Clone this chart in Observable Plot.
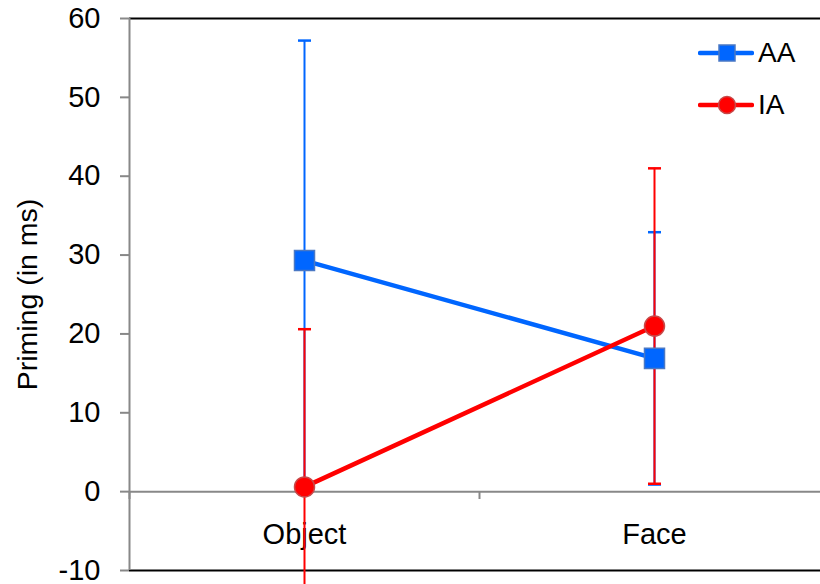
<!DOCTYPE html>
<html>
<head>
<meta charset="utf-8">
<script src="https://cdn.jsdelivr.net/npm/d3@7"></script>
<script src="https://cdn.jsdelivr.net/npm/@observablehq/plot@0.6"></script>
<style>
  html, body { margin: 0; padding: 0; background: #fff; overflow: hidden; }
  #wrap { position: relative; width: 820px; height: 584px; font-family: "Liberation Sans", Arial, sans-serif; }
  #legend { position: absolute; left: 698px; top: 37px; font-size: 28px; color: #000; }
  #legend .row { display: flex; align-items: center; height: 32px; margin-bottom: 20px; }
  #legend svg { display: block; margin-right: 4px; }
</style>
</head>
<body>
<div id="wrap"><div id="legend"></div></div>
<script>
// Priming means and error half-widths per condition
const categories = ["Object", "Face"];
const aaMean = [29.3, 16.9];
const aaErr = [27.9, 16.0];
const iaMean = [0.6, 21.0];
const iaErr = [20.0, 20.0];
const yTicks = [-10, 0, 10, 20, 30, 40, 50, 60];

const blue = "#0066ff";
const red = "#ff0000";

const series = [
  {name: "AA", mean: aaMean, err: aaErr, color: blue, edge: "#4a78c4", symbol: "square", r: 11.3},
  {name: "IA", mean: iaMean, err: iaErr, color: red, edge: "#c84848", symbol: "circle", r: 10}
];

const rows = series.flatMap(s => categories.map((c, i) => ({
  series: s.name, cat: c, pos: i + 0.5,
  mean: s.mean[i], lo: s.mean[i] - s.err[i], hi: s.mean[i] + s.err[i]
})));

// horizontal cap drawn at the ends of each error bar
const cap = {draw(ctx) { ctx.moveTo(-6.5, 0); ctx.lineTo(6.5, 0); }};

const marks = [
  Plot.ruleY([60, -10], {stroke: "#000", strokeWidth: 2}),
  Plot.ruleY([0], {stroke: "#888", strokeWidth: 2}),
  Plot.ruleX([0], {stroke: "#888", strokeWidth: 2}),
  Plot.ruleX([0, 1, 2], {y1: 0, y2: -1, stroke: "#888", strokeWidth: 2}),
  Plot.axisY({ticks: yTicks, tickSize: 9, tickPadding: 20, tickFormat: d => String(d),
    stroke: "#888", strokeWidth: 2, fill: "#000", fontSize: 29, label: null}),
  Plot.text(categories, {x: (d, i) => i + 0.5, y: 0, dy: 43, text: d => d, fontSize: 29, fill: "#000"}),
  Plot.text(["Priming (in ms)"], {frameAnchor: "left", textAnchor: "middle", dx: -102, dy: 0,
    rotate: -90, fontSize: 28.5, fill: "#000"})
];

for (const s of series) {
  const d = rows.filter(r => r.series === s.name);
  marks.push(
    Plot.ruleX(d, {x: "pos", y1: "lo", y2: "hi", stroke: s.color, strokeWidth: 2}),
    Plot.dot(d, {x: "pos", y: "hi", symbol: cap, stroke: s.color, strokeWidth: 2.5, fill: "none"}),
    Plot.dot(d, {x: "pos", y: "lo", symbol: cap, stroke: s.color, strokeWidth: 2.5, fill: "none"})
  );
}
for (const s of series) {
  const d = rows.filter(r => r.series === s.name);
  marks.push(Plot.line(d, {x: "pos", y: "mean", stroke: s.color, strokeWidth: 4.5}));
}
for (const s of series) {
  const d = rows.filter(r => r.series === s.name);
  marks.push(Plot.dot(d, {x: "pos", y: "mean", symbol: s.symbol, r: s.r, fill: s.color, stroke: s.edge, strokeWidth: 1.5}));
}

const chart = Plot.plot({
  width: 820,
  height: 584,
  marginTop: 18,
  marginBottom: 14,
  marginLeft: 129,
  marginRight: 0,
  style: {fontFamily: "Liberation Sans, Arial, sans-serif", color: "#000", background: "transparent"},
  x: {type: "linear", domain: [0, 2], range: [129, 829], axis: null},
  y: {domain: [-10, 60], range: [570, 18], axis: null},
  marks
});
const wrap = document.getElementById("wrap");
wrap.insertBefore(chart, wrap.firstChild);

// legend entries: line segment with the series marker in the middle
const legend = d3.select("#legend");
for (const s of series) {
  const row = legend.append("div").attr("class", "row");
  const sv = row.append("svg").attr("width", 56).attr("height", 24);
  sv.append("line").attr("x1", 2).attr("x2", 54).attr("y1", 12).attr("y2", 12)
    .attr("stroke", s.color).attr("stroke-width", 4.5).attr("stroke-linecap", "round");
  if (s.symbol === "square") {
    sv.append("rect").attr("x", 21).attr("y", 4).attr("width", 16).attr("height", 16)
      .attr("fill", s.color).attr("stroke", s.edge).attr("stroke-width", 1.5);
  } else {
    sv.append("circle").attr("cx", 29).attr("cy", 12).attr("r", 8.5)
      .attr("fill", s.color).attr("stroke", s.edge).attr("stroke-width", 1.5);
  }
  row.append("span").text(s.name);
}
</script>
</body>
</html>
